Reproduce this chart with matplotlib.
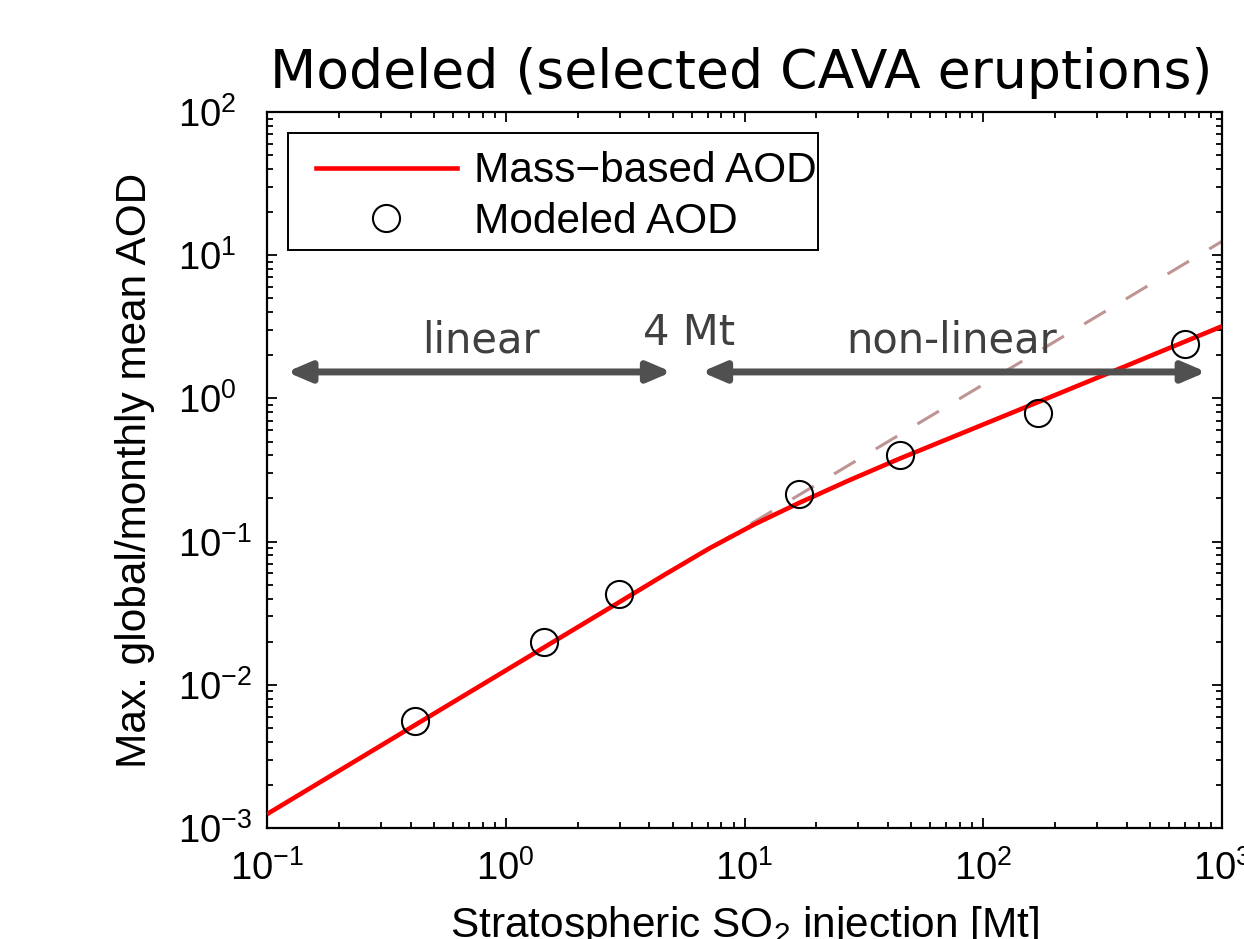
import numpy as np
import matplotlib
matplotlib.use("Agg")
import matplotlib.pyplot as plt
from matplotlib.patches import Rectangle
from matplotlib.lines import Line2D
from matplotlib.ticker import LogLocator, FuncFormatter, NullFormatter

# Mass-based AOD relation: stratospheric SO2 injection [Mt] vs. peak AOD
mass_curve = [0.1, 2.99, 4.61, 7.11, 10.96, 16.9, 27.3, 44.2, 86.8, 170, 405, 1000]
aod_curve = [0.00125, 0.0378, 0.0585, 0.0895, 0.1316, 0.186, 0.267, 0.377, 0.597, 0.944, 1.71, 3.19]

# Linear extension of the low-mass regime
mass_linear = [7.1, 1000]
aod_linear = [0.0888, 12.5]

# Modeled AOD for the selected CAVA eruptions
mass_model = [0.418, 1.44, 2.97, 16.9, 45.0, 170, 698]
aod_model = [0.00561, 0.0199, 0.0429, 0.215, 0.403, 0.795, 2.40]

# Regime annotations
arrow_level = 1.53
linear_span = [0.121, 4.95]
nonlinear_span = [6.6, 860]
regime_labels = ["linear", "4 Mt", "non-linear"]
regime_x = [0.784, 5.86, 73.6]
regime_y = [2.08, 2.36, 2.08]

legend_labels = ["Mass\u2212based AOD", "Modeled AOD"]
title_text = "Modeled (selected CAVA eruptions)"
xlabel_text = r"Stratospheric SO$_\mathregular{2}$ injection [Mt]"
ylabel_text = "Max. global/monthly mean AOD"

plt.rcParams["font.family"] = ["Liberation Sans", "DejaVu Sans"]
plt.rcParams["mathtext.fontset"] = "custom"
plt.rcParams["mathtext.rm"] = "Liberation Sans"
plt.rcParams["mathtext.it"] = "Liberation Sans:italic"
plt.rcParams["mathtext.bf"] = "Liberation Sans:bold"
plt.rcParams["lines.scale_dashes"] = False

W, H = 1244, 939
fig = plt.figure(figsize=(W / 100, H / 100), dpi=100)
fig.patch.set_facecolor("white")

ax_l, ax_r, ax_t, ax_b = 267, 1222, 112, 828
ax = fig.add_axes([ax_l / W, 1 - ax_b / H, (ax_r - ax_l) / W, (ax_b - ax_t) / H])
ax.set_xscale("log")
ax.set_yscale("log")
ax.set_xlim(1e-1, 1e3)
ax.set_ylim(1e-3, 1e2)

red = "#ff0000"
ax.plot(mass_linear, aod_linear, color="#bf9494", lw=2.2, dashes=(18, 17), zorder=2)
ax.plot(mass_curve, aod_curve, color=red, lw=3.3, solid_capstyle="butt",
        solid_joinstyle="round", zorder=3)
ax.plot(mass_model, aod_model, ls="none", marker="o", ms=19.5, mfc="none",
        mec="black", mew=1.5, zorder=4)

# Regime arrows
arrow_color = "#505050"
for span in (linear_span, nonlinear_span):
    ax.annotate("", xy=(span[1], arrow_level), xytext=(span[0], arrow_level),
                arrowprops=dict(arrowstyle="<|-|>,head_length=0.7,head_width=0.3",
                                lw=5, color=arrow_color, shrinkA=0, shrinkB=0,
                                mutation_scale=20),
                zorder=3)
for lab, x, y in zip(regime_labels, regime_x, regime_y):
    ax.text(x, y, lab, ha="center", va="baseline", fontsize=30,
            family="DejaVu Sans", color="#404040", zorder=3)

# Axis ticks
def decade(v, pos):
    e = int(round(np.log10(v)))
    return r"$\mathregular{10^{%d}}$" % e

for axis in (ax.xaxis, ax.yaxis):
    axis.set_major_locator(LogLocator(base=10, numticks=20))
    axis.set_minor_locator(LogLocator(base=10, subs=np.arange(2, 10), numticks=20))
    axis.set_major_formatter(FuncFormatter(decade))
    axis.set_minor_formatter(NullFormatter())

ax.tick_params(which="both", direction="in", top=True, right=True, width=1.3,
               colors="black")
ax.tick_params(which="major", length=7.5, labelsize=27.5)
ax.tick_params(which="minor", length=4.5)
ax.tick_params(axis="x", which="major", pad=16)
# y labels share a common left edge
ax.tick_params(axis="y", which="major", pad=(ax_l - 178) * 0.72)
for lbl in ax.get_yticklabels():
    lbl.set_horizontalalignment("left")
for sp in ax.spines.values():
    sp.set_linewidth(1.6)

# Legend box
def ax_frac(px, py):
    return (px - ax_l) / (ax_r - ax_l), 1 - (py - ax_t) / (ax_b - ax_t)

bx0, by0 = ax_frac(288, 250)
bx1, by1 = ax_frac(818, 133)
ax.add_patch(Rectangle((bx0, by0), bx1 - bx0, by1 - by0, transform=ax.transAxes,
                       facecolor="white", edgecolor="black", lw=1.4, zorder=5,
                       clip_on=False))
lx0, ly = ax_frac(316, 168)
lx1, _ = ax_frac(457, 168)
ax.add_line(Line2D([lx0, lx1], [ly, ly], transform=ax.transAxes, color=red, lw=3.3,
                   zorder=6, clip_on=False))
mx, my = ax_frac(386, 218)
ax.add_line(Line2D([mx], [my], transform=ax.transAxes, ls="none", marker="o",
                   ms=19.5, mfc="none", mec="black", mew=1.5, zorder=6, clip_on=False))
tx, ty1 = ax_frac(474, 182)
_, ty2 = ax_frac(474, 233)
ax.text(tx, ty1, legend_labels[0], transform=ax.transAxes, ha="left", va="baseline",
        fontsize=30.5, zorder=7, clip_on=False)
ax.text(tx, ty2, legend_labels[1], transform=ax.transAxes, ha="left", va="baseline",
        fontsize=30.5, zorder=7, clip_on=False)

# Title and axis labels
fig.text(741 / W, 1 - 88 / H, title_text, ha="center", va="baseline",
         fontsize=38.6, family="DejaVu Sans", color="black")
fig.text(745 / W, 1 - 937.5 / H, xlabel_text, ha="center", va="baseline",
         fontsize=30.5)
fig.text(146 / W, 1 - 470 / H, ylabel_text, ha="center", va="baseline",
         rotation=90, rotation_mode="anchor", fontsize=30.5)

fig.savefig("out.png", dpi=100, facecolor="white")
